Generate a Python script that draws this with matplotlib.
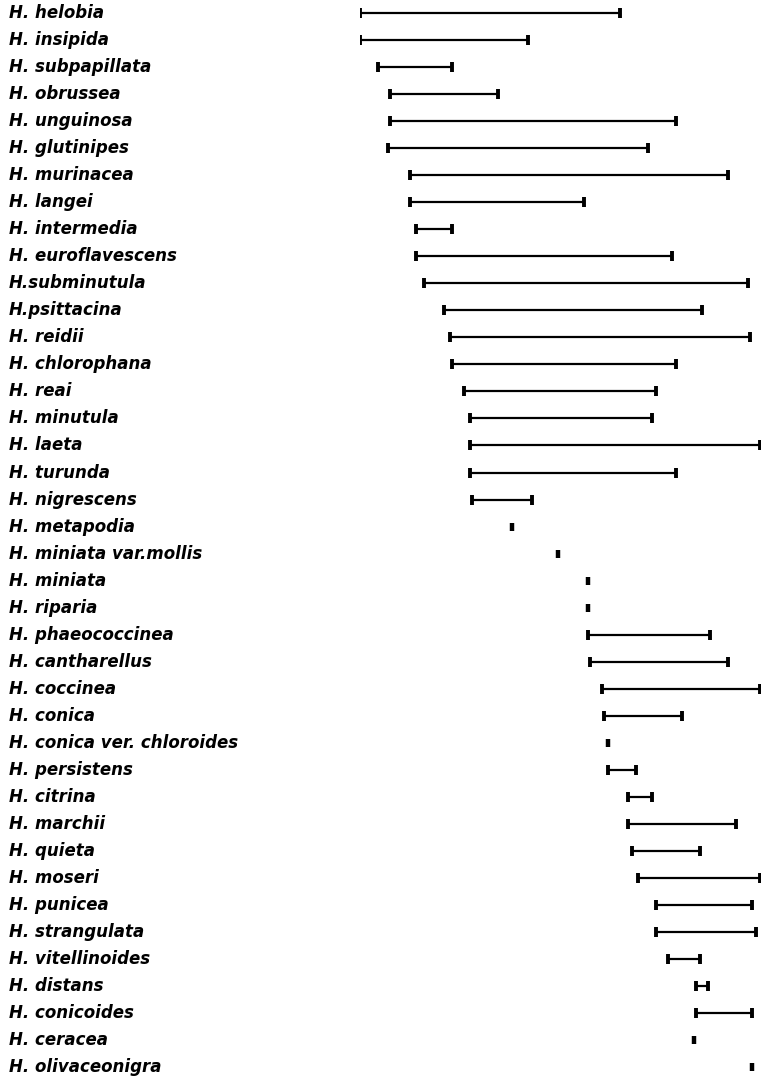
import matplotlib
matplotlib.use("Agg")
import matplotlib.pyplot as plt
from matplotlib.transforms import blended_transform_factory

species = [
    "H. helobia", "H. insipida", "H. subpapillata", "H. obrussea", "H. unguinosa",
    "H. glutinipes", "H. murinacea", "H. langei", "H. intermedia", "H. euroflavescens",
    "H.subminutula", "H.psittacina", "H. reidii", "H. chlorophana", "H. reai",
    "H. minutula", "H. laeta", "H. turunda", "H. nigrescens", "H. metapodia",
    "H. miniata var.mollis", "H. miniata", "H. riparia", "H. phaeococcinea", "H. cantharellus",
    "H. coccinea", "H. conica", "H. conica ver. chloroides", "H. persistens", "H. citrina",
    "H. marchii", "H. quieta", "H. moseri", "H. punicea", "H. strangulata",
    "H. vitellinoides", "H. distans", "H. conicoides", "H. ceracea", "H. olivaceonigra",
]
start = [0, 0, 4.5, 7.5, 7.5, 7, 12.5, 12.5, 14, 14,
         16, 21, 22.5, 23, 26, 27.5, 27.5, 27.5, 28, 38,
         49.5, 57, 57, 57, 57.5, 60.5, 61, 62, 62, 67,
         67, 68, 69.5, 74, 74, 77, 84, 84, 83.5, 98]
end = [65, 42, 23, 34.5, 79, 72, 92, 56, 23, 78,
       97, 85.5, 97.5, 79, 74, 73, 100, 79, 43, 38,
       49.5, 57, 57, 87.5, 92, 100, 80.5, 62, 69, 73,
       94, 85, 100, 98, 99, 85, 87, 98, 83.5, 98]

W, H = 763, 1086
fig = plt.figure(figsize=(W / 100, H / 100), dpi=100)
fig.patch.set_facecolor("white")
ax = fig.add_axes([360 / W, 0, 400 / W, 1])
ax.set_xlim(0, 100)
row_px = 27.03
top_px = 13
ax.set_ylim((H - top_px) / row_px, -top_px / row_px)
ax.axis("off")

for i, (s, e) in enumerate(zip(start, end)):
    if e > s:
        ax.hlines(i, s, e, color="black", lw=1.6)
        ax.plot([s, e], [i, i], ls="none", marker="|", ms=7.5, mew=2.8,
                color="black", solid_capstyle="round")
    else:
        ax.plot([s], [i], ls="none", marker="|", ms=5.5, mew=3.2, color="black")

tr = blended_transform_factory(ax.transAxes, ax.transData)
lab_x = (9 - 360) / 400
for i, name in enumerate(species):
    ax.text(lab_x, i, name, transform=tr, ha="left", va="center",
            fontsize=12, fontstyle="italic", fontweight="bold",
            family="DejaVu Sans", clip_on=False)

fig.savefig("out.png", dpi=100)
